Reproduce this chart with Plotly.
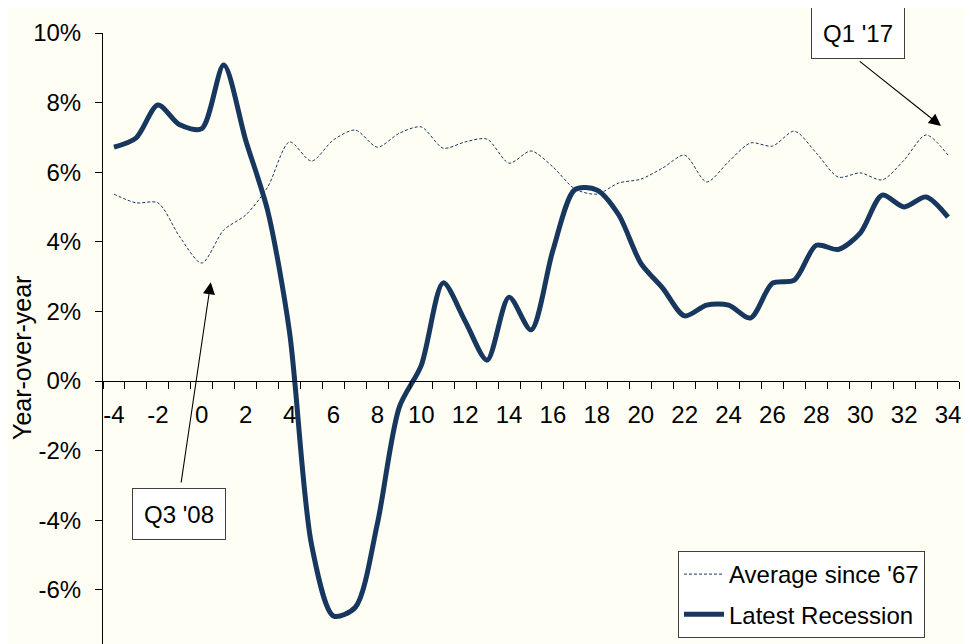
import plotly.graph_objects as go

quarters = list(range(-4, 35))
latest_recession = [6.72, 6.98, 7.93, 7.36, 7.25, 9.08, 6.92, 4.9, 1.4, -4.7, -6.75, -6.5,
                    -4.1, -0.75, 0.45, 2.82, 1.72, 0.6, 2.41, 1.47, 3.76, 5.5, 5.49, 4.77,
                    3.39, 2.67, 1.87, 2.18, 2.18, 1.81, 2.81, 2.9, 3.9, 3.78, 4.25, 5.34,
                    5.0, 5.29, 4.71]
average_since_67 = [5.37, 5.12, 5.12, 4.14, 3.39, 4.34, 4.77, 5.57, 6.87, 6.32, 6.93, 7.21,
                    6.72, 7.12, 7.3, 6.69, 6.87, 6.95, 6.26, 6.61, 6.15, 5.52, 5.37, 5.69,
                    5.8, 6.12, 6.49, 5.72, 6.3, 6.84, 6.75, 7.18, 6.55, 5.86, 5.98, 5.78,
                    6.35, 7.07, 6.49]
x_tick_vals = list(range(-4, 35, 2))
x_tick_text = [str(v) for v in x_tick_vals]
y_tick_vals = [-6, -4, -2, 0, 2, 4, 6, 8, 10]
y_tick_text = ["-6%", "-4%", "-2%", "0%", "2%", "4%", "6%", "8%", "10%"]

NAVY = "#17375E"
BG = "#FEFEF4"
FONT = "Liberation Sans, Arial, sans-serif"

Y_MIN, Y_MAX = -7.557, 10

# plot area in page pixels: x 103..959, y 33..644 (page has 8px body offset)
def px_x(sx):
    return (sx - 103) / 856

def px_y(sy):
    return (644 - sy) / 611

fig = go.Figure()
fig.add_trace(go.Scatter(
    x=quarters, y=average_since_67, mode="lines", name="Average since '67",
    line=dict(color=NAVY, width=1, dash="3px,2px", shape="spline", smoothing=0.8),
    legendgroup="a"))
fig.add_trace(go.Scatter(
    x=quarters, y=latest_recession, mode="lines", name="Latest Recession",
    line=dict(color=NAVY, width=5, shape="spline", smoothing=0.8),
    legendgroup="b"))

fig.update_layout(
    width=971, height=644,
    margin=dict(l=95, r=20, t=25, b=8),
    paper_bgcolor=BG, plot_bgcolor=BG,
    font=dict(family=FONT, size=24, color="#000000"),
    showlegend=True,
    legend=dict(x=px_x(925), y=px_y(638), xanchor="right", yanchor="bottom",
                bgcolor="#FFFFFF", bordercolor="#404040", borderwidth=1,
                font=dict(size=24), traceorder="grouped", tracegroupgap=6,
                itemwidth=40, entrywidth=205),
    xaxis=dict(range=[-4.5, 34.5], anchor="free", position=(0 - Y_MIN) / (Y_MAX - Y_MIN),
               showgrid=False, zeroline=False, showline=True, linecolor="#000000", linewidth=1,
               tickmode="array", tickvals=x_tick_vals, ticktext=x_tick_text, ticks="",
               ticklabelstandoff=12, tickfont=dict(size=24),
               minor=dict(tickmode="linear", tick0=-4.5, dtick=1, ticks="outside",
                          ticklen=7, tickcolor="#000000", tickwidth=1, showgrid=False)),
    yaxis=dict(range=[Y_MIN, Y_MAX], showgrid=False, zeroline=False, showline=True,
               linecolor="#000000", linewidth=1, tickmode="array", tickvals=y_tick_vals,
               ticktext=y_tick_text, ticks="outside", ticklen=7, tickcolor="#000000",
               ticklabelstandoff=9, tickfont=dict(size=24)),
)

# Y axis title
fig.add_annotation(text="Year-over-year", xref="paper", yref="paper",
                   x=px_x(22), y=px_y(358), textangle=-90,
                   showarrow=False, font=dict(size=25), xanchor="center", yanchor="middle")

# Callout boxes
for label, cx, cy in [("Q1 '17", 858, 33), ("Q3 '08", 179, 514)]:
    fig.add_annotation(text=label, xref="paper", yref="paper",
                       x=px_x(cx), y=px_y(cy), showarrow=False,
                       font=dict(size=24), bgcolor="#FFFFFF", bordercolor="#404040",
                       borderwidth=1, width=86, height=44, borderpad=3,
                       xanchor="center", yanchor="middle")

# Arrows (tail -> head in data coordinates)
for (tx, ty), (hx, hy) in [((29.91, 9.22), (33.68, 7.33)), ((-0.95, -2.96), (0.41, 2.84))]:
    fig.add_annotation(text="", x=hx, y=hy, ax=tx, ay=ty, xref="x", yref="y",
                       axref="x", ayref="y", showarrow=True, arrowhead=2,
                       arrowsize=2.2, arrowwidth=1.1, arrowcolor="#000000", standoff=0)

fig.write_html("out.html")
